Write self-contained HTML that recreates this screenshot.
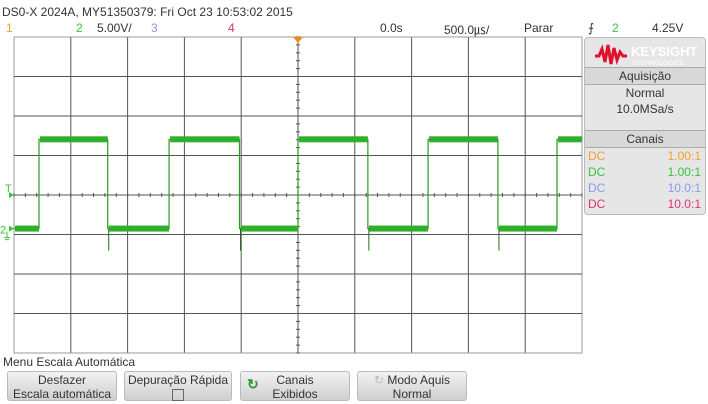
<!DOCTYPE html>
<html><head><meta charset="utf-8"><style>
body{margin:0;width:708px;height:403px;background:#fff;font-family:"Liberation Sans",sans-serif;overflow:hidden;position:relative}
.t{position:absolute;font-size:12px;color:#333;white-space:nowrap}
.btn{position:absolute;top:371px;height:30px;background:linear-gradient(#f2f2f2,#cfcfcf);border:1px solid #bbb;border-radius:3px;font-size:12px;color:#333;text-align:center;line-height:14px;padding-top:1px;box-sizing:border-box}
#panel{position:absolute;left:584px;top:37px;width:120px;height:176px;background:#e6e6e6;border:1px solid #bbb;border-radius:4px;font-size:12px;color:#333}
.hdr{position:absolute;left:0;width:120px;height:16px;background:#d8d8d8;border-top:1px solid #aaa;border-bottom:1px solid #aaa;text-align:center;line-height:16px}
.row{position:absolute;left:3px;width:113px;height:15px;line-height:15px}
.row span:last-child{float:right}
</style></head><body>
<div class="t" style="left:2px;top:5px;font-size:12px">DS0-X 2024A, MY51350379: Fri Oct 23 10:53:02 2015</div>
<div class="t" style="left:6px;top:21px;color:#f5a030">1</div>
<div class="t" style="left:76px;top:21px;color:#3ac23a">2</div>
<div class="t" style="left:97px;top:21px">5.00V/</div>
<div class="t" style="left:151px;top:21px;color:#8899ee">3</div>
<div class="t" style="left:228px;top:21px;color:#e0307a">4</div>
<div class="t" style="left:380px;top:21px">0.0s</div>
<div class="t" style="left:444px;top:21px">500.0㎲/</div>
<div class="t" style="left:524px;top:21px">Parar</div>
<div class="t" style="left:588px;top:21px">⨍</div>
<div class="t" style="left:612px;top:21px;color:#3ac23a">2</div>
<div class="t" style="left:652px;top:21px">4.25V</div>

<svg id="scope" width="708" height="403" style="position:absolute;left:0;top:0"></svg>

<div id="panel">
 <svg width="120" height="28" style="position:absolute;left:0;top:2px">
  <polyline points="10,16 14,16 17,9 20,22 23,5 26,24 29,8 32,20 35,12 38,16 42,16" fill="none" stroke="#e0102a" stroke-width="3"/>
  <text x="46" y="16" font-size="13" font-weight="bold" fill="#fff" font-family="Liberation Sans">KEYSIGHT</text>
  <text x="47" y="25" font-size="6.5" fill="#fff" font-family="Liberation Sans">TECHNOLOGIES</text>
 </svg>
 <div class="hdr" style="top:29px">Aquisição</div>
 <div class="t" style="left:0;width:120px;text-align:center;top:48px">Normal</div>
 <div class="t" style="left:0;width:120px;text-align:center;top:64px">10.0MSa/s</div>
 <div class="hdr" style="top:92px">Canais</div>
 <div class="row" style="top:111px;color:#f5a030"><span>DC</span><span>1.00:1</span></div>
 <div class="row" style="top:127px;color:#3ac23a"><span>DC</span><span>1.00:1</span></div>
 <div class="row" style="top:143px;color:#8899ee"><span>DC</span><span>10.0:1</span></div>
 <div class="row" style="top:159px;color:#e0307a"><span>DC</span><span>10.0:1</span></div>
</div>

<div class="t" style="left:3px;top:355px">Menu Escala Automática</div>
<div class="btn" style="left:7px;width:110px">Desfazer<br>Escala automática</div>
<div class="btn" style="left:124px;width:108px">Depuração Rápida<br><span style="display:inline-block;width:10px;height:10px;border:1px solid #666;margin-top:2px"></span></div>
<div class="btn" style="left:240px;width:110px"><span style="position:absolute;left:6px;top:5px;color:#2a9a2a;font-weight:bold;font-size:14px">↻</span>Canais<br>Exibidos</div>
<div class="btn" style="left:357px;width:110px"><span style="color:#bbb">↻</span> Modo Aquis<br>Normal</div>

<script>
const edgeTimes=[0.44,1.65,2.73,3.97,5.0,6.23,7.29,8.52,9.56]; // divisions from left
const levelsV=[0,11.3,0,11.3,0,11.3,0,11.3,0,11.3]; // volts, ch2
const triggerV=4.25, voltsPerDiv=5;
const NS="http://www.w3.org/2000/svg";
const svg=document.getElementById('scope');
const X0=14,X1=582,Y0=37,Y1=353;
const dx=(X1-X0)/10, dy=(Y1-Y0)/8, yC=(Y0+Y1)/2;
const groundY=yC+triggerV/voltsPerDiv*dy;
const xs=d=>X0+d*dx, ys=v=>groundY-v/voltsPerDiv*dy;
function el(t,a){const e=document.createElementNS(NS,t);for(const k in a)e.setAttribute(k,a[k]);svg.appendChild(e);return e;}
for(let i=0;i<=10;i++){const l=el('line',{x1:xs(i),x2:xs(i),y1:Y0,y2:Y1,stroke:(i==0||i==10)?'#999':'#555','stroke-width':1});
}
for(let j=0;j<=8;j++){const y=Y0+j*dy;const l=el('line',{x1:X0,x2:X1,y1:y,y2:y,stroke:(j==0||j==8)?'#999':'#555','stroke-width':1});
}
for(let k=0;k<=50;k++){const x=X0+k*dx/5;el('line',{x1:x,x2:x,y1:yC-2,y2:yC+2,stroke:'#555'});}
for(let k=0;k<=40;k++){const y=Y0+k*dy/5;el('line',{x1:xs(5)-2,x2:xs(5)+2,y1:y,y2:y,stroke:'#555'});}
// waveform
let pts=[[0,levelsV[0]]];
edgeTimes.forEach((t,i)=>{pts.push([t,levelsV[i]]);pts.push([t,levelsV[i+1]]);});
pts.push([10,levelsV[levelsV.length-1]]);
const w=el('polyline',{points:pts.map(p=>xs(p[0])+','+ys(p[1])).join(' '),fill:'none',stroke:'#2a9a20','stroke-width':1.2});

// noise band on flat levels
for(let i=0;i<=edgeTimes.length;i++){const a=i==0?0:edgeTimes[i-1],b=i==edgeTimes.length?10:edgeTimes[i];
const r=el('rect',{x:xs(a)+1,y:ys(levelsV[i])-3,width:xs(b)-xs(a)-1,height:6,fill:'#2fb02a'});
}
// falling-edge undershoot spikes
edgeTimes.forEach((t,i)=>{if(levelsV[i]>levelsV[i+1])el('line',{x1:xs(t)+1,x2:xs(t)+1,y1:ys(0),y2:ys(0)+22,stroke:'#2a6a20'});});
// trigger position marker
const tp=el('polygon',{points:`${xs(5)-5},${Y0} ${xs(5)+5},${Y0} ${xs(5)},${Y0+6}`,fill:'#f08a10'});

const tm=el('text',{x:5,y:yC-3,fill:'#3ac23a','font-size':11});tm.textContent='T';

el('polygon',{points:`9,${yC-3} 14,${yC} 9,${yC+3}`,fill:'#3ac23a'});
const gm=el('text',{x:0,y:groundY+5,fill:'#3ac23a','font-size':11});gm.textContent='2';

el('polygon',{points:`9,${groundY-3} 14,${groundY} 9,${groundY+3}`,fill:'#3ac23a'});
el('path',{d:`M7,${groundY+3} v6 M4,${groundY+9} h6 M5,${groundY+11} h4`,stroke:'#3ac23a',fill:'none'});
</script>
</body></html>
